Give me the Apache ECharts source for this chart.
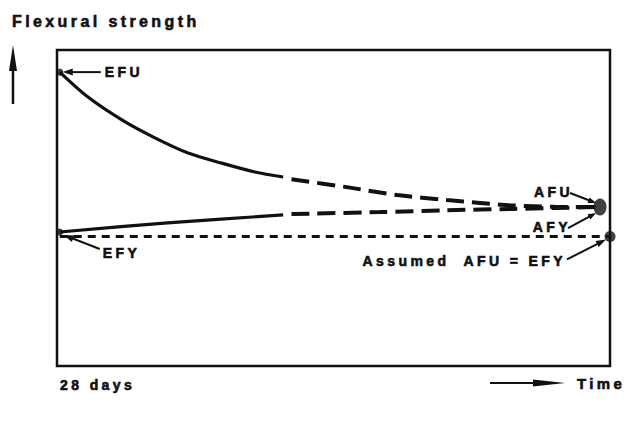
<!DOCTYPE html>
<html>
<head>
<meta charset="utf-8">
<script src="https://cdn.jsdelivr.net/npm/echarts@6/dist/echarts.min.js"></script>
<style>
  html, body { margin: 0; padding: 0; background: #fff; }
  #chart { width: 642px; height: 421px; }
  #chart text { letter-spacing: 3.4px; white-space: pre; }
</style>
</head>
<body>
<div id="chart"></div>
<script>
// schematic units: x = time (0 = 28 days, 100 = end), y = flexural strength
const efuEarly = [[0.5, 93], [5.6, 85.1], [11.8, 77.8], [17.7, 72.2], [23.7, 67.4], [29.8, 64.2], [35.8, 61.4], [40.9, 59.8]];
const efuLate = [[42.4, 59.1], [52.4, 56.6], [61.5, 54.1], [70.5, 52.5], [76.5, 51.6], [82.5, 50.8], [90, 50.4], [97.6, 50.3]];
const efyEarly = [[0.5, 42.4], [20, 45.3], [40.9, 47.8]];
const efyLate = [[42.4, 48.1], [58.4, 48.7], [70.5, 49.3], [82.5, 49.7], [90, 50.0], [97.6, 50.3]];
const assumedLine = [[0.5, 41], [100, 41]];
const startPoints = [[0.5, 93], [0.5, 42.4]];
const ultimatePoint = [[98.2, 50.3]];
const assumedPoint = [[100, 41]];

const INK = '#111';
const FONT = 'bold 14px "Liberation Sans", Arial, sans-serif';

const chart = echarts.init(document.getElementById('chart'), null, { renderer: 'svg' });

chart.setOption({
  animation: false,
  grid: {
    show: true,
    left: 57, right: 32, top: 50, bottom: 55,
    borderColor: INK,
    borderWidth: 2.5
  },
  xAxis: { type: 'value', min: 0, max: 100, show: false },
  yAxis: { type: 'value', min: 0, max: 100, show: false },
  series: [
    { type: 'line', data: efuEarly, smooth: 0.3, symbol: 'none', lineStyle: { color: INK, width: 3.2 } },
    { type: 'line', data: efuLate, smooth: 0.3, symbol: 'none', lineStyle: { color: INK, width: 4, type: [18, 8] } },
    { type: 'line', data: efyEarly, smooth: 0.3, symbol: 'none', lineStyle: { color: INK, width: 3.2 } },
    { type: 'line', data: efyLate, smooth: 0.3, symbol: 'none', lineStyle: { color: INK, width: 4, type: [18, 8] } },
    { type: 'line', data: assumedLine, symbol: 'none', lineStyle: { color: INK, width: 3, type: [8, 6] } },
    { type: 'scatter', data: startPoints, symbolSize: 7, itemStyle: { color: INK } },
    { type: 'scatter', data: ultimatePoint, symbolSize: [13, 17], itemStyle: { color: INK } },
    { type: 'scatter', data: assumedPoint, symbolSize: 11, itemStyle: { color: INK } }
  ]
});

const px = p => chart.convertToPixel({ gridIndex: 0 }, p);

function arrow(p0, p1, head, half, w) {
  const dx = p1[0] - p0[0], dy = p1[1] - p0[1];
  const L = Math.hypot(dx, dy), ux = dx / L, uy = dy / L;
  const bx = p1[0] - ux * head, by = p1[1] - uy * head;
  return [
    { type: 'line', shape: { x1: p0[0], y1: p0[1], x2: bx + ux, y2: by + uy }, style: { stroke: INK, lineWidth: w } },
    { type: 'polygon', shape: { points: [p1, [bx - uy * half, by + ux * half], [bx + uy * half, by - ux * half]] }, style: { fill: INK } }
  ];
}

function label(text, x, y, align, font) {
  return {
    type: 'text', x: x, y: y,
    style: { text: text, font: font || FONT, fill: INK, stroke: INK, lineWidth: 0.6, align: align || 'left', verticalAlign: 'middle' }
  };
}

const efu0 = px(startPoints[0]);
const efy0 = px(startPoints[1]);
const ult = px(ultimatePoint[0]);
const ass = px(assumedPoint[0]);

const g = [].concat(
  label('Flexural strength', 12, 21, 'left', 'bold 16px "Liberation Sans", Arial, sans-serif'),
  arrow([13, 104], [13, 45], 26, 4, 2.5),
  label('EFU', efu0[0] + 45, efu0[1]),
  arrow([efu0[0] + 41, efu0[1]], [efu0[0] + 3, efu0[1]], 10, 3.5, 2),
  label('EFY', efy0[0] + 43, efy0[1] + 21),
  arrow([efy0[0] + 40, efy0[1] + 17], [efy0[0] + 4, efy0[1] + 3], 10, 3.5, 2),
  label('AFU', ult[0] - 27, ult[1] - 15, 'right'),
  arrow([ult[0] - 30, ult[1] - 14], [ult[0] - 4, ult[1] - 4], 8, 3, 2),
  label('AFY', ult[0] - 29, ult[1] + 20, 'right'),
  arrow([ult[0] - 32, ult[1] + 21], [ult[0] - 4, ult[1] + 6], 8, 3, 2),
  label('Assumed  AFU = EFY', ass[0] - 44, ass[1] + 25, 'right'),
  arrow([ass[0] - 43, ass[1] + 23], [ass[0] - 4, ass[1] + 3], 10, 3.5, 2),
  label('28 days', 60, 385),
  arrow([490, 383], [565, 383], 32, 3.5, 2),
  label('Time', 577, 383, 'left', 'bold 15px "Liberation Sans", Arial, sans-serif')
);

chart.setOption({ graphic: g });
</script>
</body>
</html>
